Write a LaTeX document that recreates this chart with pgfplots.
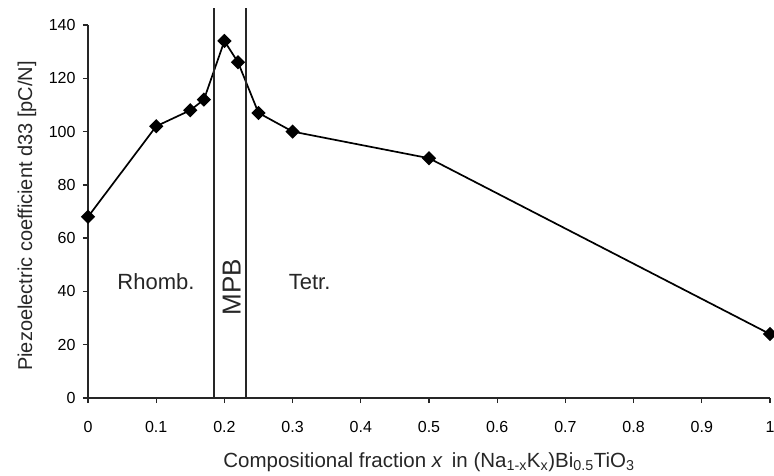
\documentclass[border=0pt]{standalone}
\usepackage{pgfplots}
\pgfplotsset{compat=1.18}
\usepackage{fontspec}
\setmainfont{Liberation Sans}
\begin{document}
\begin{tikzpicture}
\useasboundingbox (-88pt,-77pt) rectangle (686pt,398pt);
\begin{axis}[
  scale only axis,
  width=682pt, height=373pt,
  xmin=0, xmax=1, ymin=0, ymax=140,
  clip=false,
  axis x line=bottom, axis y line=left,
  axis line style={-, line width=1.6pt, black!85},
  tick align=outside,
  major tick length=5pt,
  tick style={line width=1.3pt, black!85},
  xtick={0,0.1,...,1.0},
  xticklabels={0,0.1,0.2,0.3,0.4,0.5,0.6,0.7,0.8,0.9,1},
  ytick={0,20,...,140},
  /pgf/number format/assume math mode=true,
  ticklabel style={font=\fontsize{16pt}{18pt}\selectfont, text=black},
  xticklabel style={yshift=-15pt},
  yticklabel style={xshift=-4pt},
  xlabel={Compositional fraction \textit{x}\, in (Na\textsubscript{1-x}K\textsubscript{x})Bi\textsubscript{0.5}TiO\textsubscript{3}},
  ylabel={Piezoelectric coefficient d33 [pC/N]},
  xlabel style={font=\fontsize{20.5pt}{22pt}\selectfont, text=black!85, at={(axis description cs:0.5,-0.185)}, anchor=base},
  ylabel style={font=\fontsize{20pt}{22pt}\selectfont, text=black!85, at={(axis description cs:-0.082,0.488)}, anchor=base, rotate=0},
]
\addplot[black, line width=1.7pt, mark=square*, mark size=4.2pt, mark options={rotate=45, solid}] coordinates {
  (0,68) (0.1,102) (0.15,108) (0.17,112) (0.2,134) (0.22,126) (0.25,107) (0.3,100) (0.5,90) (1,24)
};
\addplot[black!85, line width=1.5pt] coordinates {(0.185,0) (0.185,146.5)};
\addplot[black!85, line width=1.5pt] coordinates {(0.232,0) (0.232,146.5)};
\node[font=\fontsize{22pt}{24pt}\selectfont, text=black!85] at (axis cs:0.0997,43.5) {Rhomb.};
\node[font=\fontsize{26pt}{28pt}\selectfont, text=black!85, rotate=90] at (axis cs:0.2105,41.6) {MPB};
\node[font=\fontsize{22pt}{24pt}\selectfont, text=black!85] at (axis cs:0.325,43.5) {Tetr.};
\end{axis}
\end{tikzpicture}
\end{document}
